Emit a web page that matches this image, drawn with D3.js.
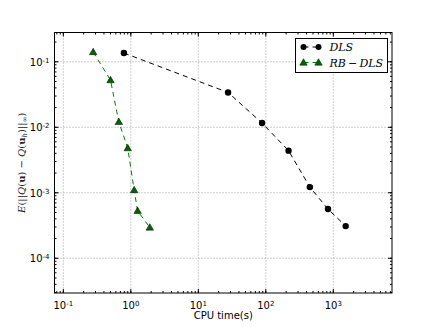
<!DOCTYPE html>
<html>
<head>
<meta charset="utf-8">
<script src="https://cdn.jsdelivr.net/npm/d3@7"></script>
<style>
body { margin: 0; background: #fff; }
svg { display: block; }
</style>
</head>
<body>
<svg width="436" height="327"></svg>
<script>
// data
var dlsTime = [0.79, 27.6, 88, 217, 449, 834, 1524];
var dlsErr = [0.136, 0.034, 0.0116, 0.0044, 0.00122, 0.000564, 0.00031];
var rbTime = [0.277, 0.5, 0.664, 0.9, 1.12, 1.26, 1.91];
var rbErr = [0.141, 0.0525, 0.0121, 0.0048, 0.0011, 0.00053, 0.000295];
var xTicks = [-1, 0, 1, 2, 3];
var yTicks = [-4, -3, -2, -1];

var margin = {top: 32.5, right: 44, bottom: 34, left: 54.5};
var width = 436 - margin.left - margin.right;
var height = 327 - margin.top - margin.bottom;
var svg = d3.select("svg");
var g = svg.append("g").attr("transform", "translate(" + margin.left + "," + margin.top + ")");

var x = d3.scaleLog().domain([0.074, 7400]).range([0, width]);
var y = d3.scaleLog().domain([2.95e-5, 0.28]).range([height, 0]);

// minor tick values
function minors(lo, hi) {
    var out = [];
    for (var e = lo; e <= hi; e++) {
        for (var m = 1; m < 10; m++) out.push(m * Math.pow(10, e));
    }
    return out;
}
var xMinor = minors(-2, 3).filter(function(v){ return v >= x.domain()[0] && v <= x.domain()[1]; });
var yMinor = minors(-5, -1).filter(function(v){ return v >= y.domain()[0] && v <= y.domain()[1]; });

// grid
g.selectAll(".gx").data(xTicks).enter().append("line")
    .attr("x1", function(d){ return x(Math.pow(10, d)); })
    .attr("x2", function(d){ return x(Math.pow(10, d)); })
    .attr("y1", 0).attr("y2", height)
    .attr("stroke", "#888").attr("stroke-dasharray", "1,2").attr("stroke-width", 0.8);
g.selectAll(".gy").data(yTicks).enter().append("line")
    .attr("y1", function(d){ return y(Math.pow(10, d)); })
    .attr("y2", function(d){ return y(Math.pow(10, d)); })
    .attr("x1", 0).attr("x2", width)
    .attr("stroke", "#888").attr("stroke-dasharray", "1,2").attr("stroke-width", 0.8);

// ticks, inward on all sides
function tickLines(vals, len, axis) {
    vals.forEach(function(v) {
        if (axis === "x") {
            var px = x(v);
            g.append("line").attr("x1", px).attr("x2", px).attr("y1", height).attr("y2", height - len).attr("stroke", "#000");
            g.append("line").attr("x1", px).attr("x2", px).attr("y1", 0).attr("y2", len).attr("stroke", "#000");
        } else {
            var py = y(v);
            g.append("line").attr("y1", py).attr("y2", py).attr("x1", 0).attr("x2", len).attr("stroke", "#000");
            g.append("line").attr("y1", py).attr("y2", py).attr("x1", width).attr("x2", width - len).attr("stroke", "#000");
        }
    });
}
tickLines(xMinor, 2, "x");
tickLines(yMinor, 2, "y");
tickLines(xTicks.map(function(d){ return Math.pow(10, d); }), 4, "x");
tickLines(yTicks.map(function(d){ return Math.pow(10, d); }), 4, "y");

// tick labels
function powLabel(sel, e) {
    sel.append("tspan").text("10");
    sel.append("tspan").attr("dy", "-0.45em").attr("font-size", "7px").text(e < 0 ? "-" + (-e) : e);
}
xTicks.forEach(function(e) {
    var t = g.append("text").attr("x", x(Math.pow(10, e))).attr("y", height + 16)
        .attr("text-anchor", "middle").attr("font-family", "DejaVu Sans").attr("font-size", "10px");
    powLabel(t, e);
});
yTicks.forEach(function(e) {
    var t = g.append("text").attr("x", -5).attr("y", y(Math.pow(10, e)) + 4)
        .attr("text-anchor", "end").attr("font-family", "DejaVu Sans").attr("font-size", "10px");
    powLabel(t, e);
});

// frame
g.append("rect").attr("width", width).attr("height", height)
    .attr("fill", "none").attr("stroke", "#000").attr("stroke-width", 1);

// series
var line = d3.line().x(function(d){ return x(d[0]); }).y(function(d){ return y(d[1]); });
var dls = d3.zip(dlsTime, dlsErr);
var rb = d3.zip(rbTime, rbErr);

g.append("path").datum(dls).attr("d", line).attr("fill", "none")
    .attr("stroke", "#000").attr("stroke-dasharray", "5,4").attr("stroke-width", 1);
g.append("path").datum(rb).attr("d", line).attr("fill", "none")
    .attr("stroke", "#008000").attr("stroke-dasharray", "5,4").attr("stroke-width", 1);

var tri = d3.symbol().type(d3.symbolTriangle).size(24);
g.selectAll(".dot").data(dls).enter().append("circle")
    .attr("cx", function(d){ return x(d[0]); })
    .attr("cy", function(d){ return y(d[1]); })
    .attr("r", 3.2).attr("fill", "#000");
g.selectAll(".tri").data(rb).enter().append("path")
    .attr("d", tri)
    .attr("transform", function(d){ return "translate(" + x(d[0]) + "," + (y(d[1]) + 0.5) + ")"; })
    .attr("fill", "#006400").attr("stroke", "#000").attr("stroke-width", 0.5);

// legend
var lg = svg.append("g").attr("transform", "translate(295.5,38.5)");
lg.append("rect").attr("width", 92).attr("height", 34)
    .attr("fill", "#fff").attr("stroke", "#000").attr("stroke-width", 1);
var items = [["DLS", "#000", "c"], ["RB\u2009\u2212\u2009DLS", "#008000", "t"]];
items.forEach(function(it, i) {
    var cy = 8.5 + i * 15.5;
    lg.append("line").attr("x1", 8).attr("x2", 23).attr("y1", cy).attr("y2", cy)
        .attr("stroke", it[1]).attr("stroke-dasharray", "5,4");
    [8, 23].forEach(function(px) {
        if (it[2] === "c") {
            lg.append("circle").attr("cx", px).attr("cy", cy).attr("r", 3).attr("fill", "#000");
        } else {
            lg.append("path").attr("d", tri).attr("transform", "translate(" + px + "," + (cy + 0.5) + ")")
                .attr("fill", "#006400").attr("stroke", "#000").attr("stroke-width", 0.5);
        }
    });
    lg.append("text").attr("x", 34).attr("y", cy + 4)
        .attr("font-family", "DejaVu Serif").attr("font-style", "italic").attr("font-size", "11px")
        .text(it[0]);
});

// axis labels
svg.append("text").attr("x", margin.left + width / 2).attr("y", 319)
    .attr("text-anchor", "middle").attr("font-family", "DejaVu Sans").attr("font-size", "10px")
    .text("CPU time(s)");

var yl = svg.append("text").attr("transform", "translate(25," + (margin.top + height / 2) + ") rotate(-90)")
    .attr("text-anchor", "middle").attr("font-family", "DejaVu Serif").attr("font-size", "10px").attr("fill", "#222");
yl.append("tspan").attr("font-style", "italic").text("E");
yl.append("tspan").text("(||");
yl.append("tspan").attr("font-style", "italic").text("Q");
yl.append("tspan").text("(");
yl.append("tspan").attr("font-weight", "bold").text("u");
yl.append("tspan").text(") \u2212 ");
yl.append("tspan").attr("font-style", "italic").text("Q");
yl.append("tspan").text("(");
yl.append("tspan").attr("font-weight", "bold").text("u");
yl.append("tspan").attr("font-size", "7px").attr("dy", "2").attr("font-style", "italic").text("h");
yl.append("tspan").attr("dy", "-2").text(")||");
yl.append("tspan").attr("font-size", "7px").attr("dy", "2").text("\u221e");
yl.append("tspan").attr("dy", "-2").text(")");
</script>
</body>
</html>
